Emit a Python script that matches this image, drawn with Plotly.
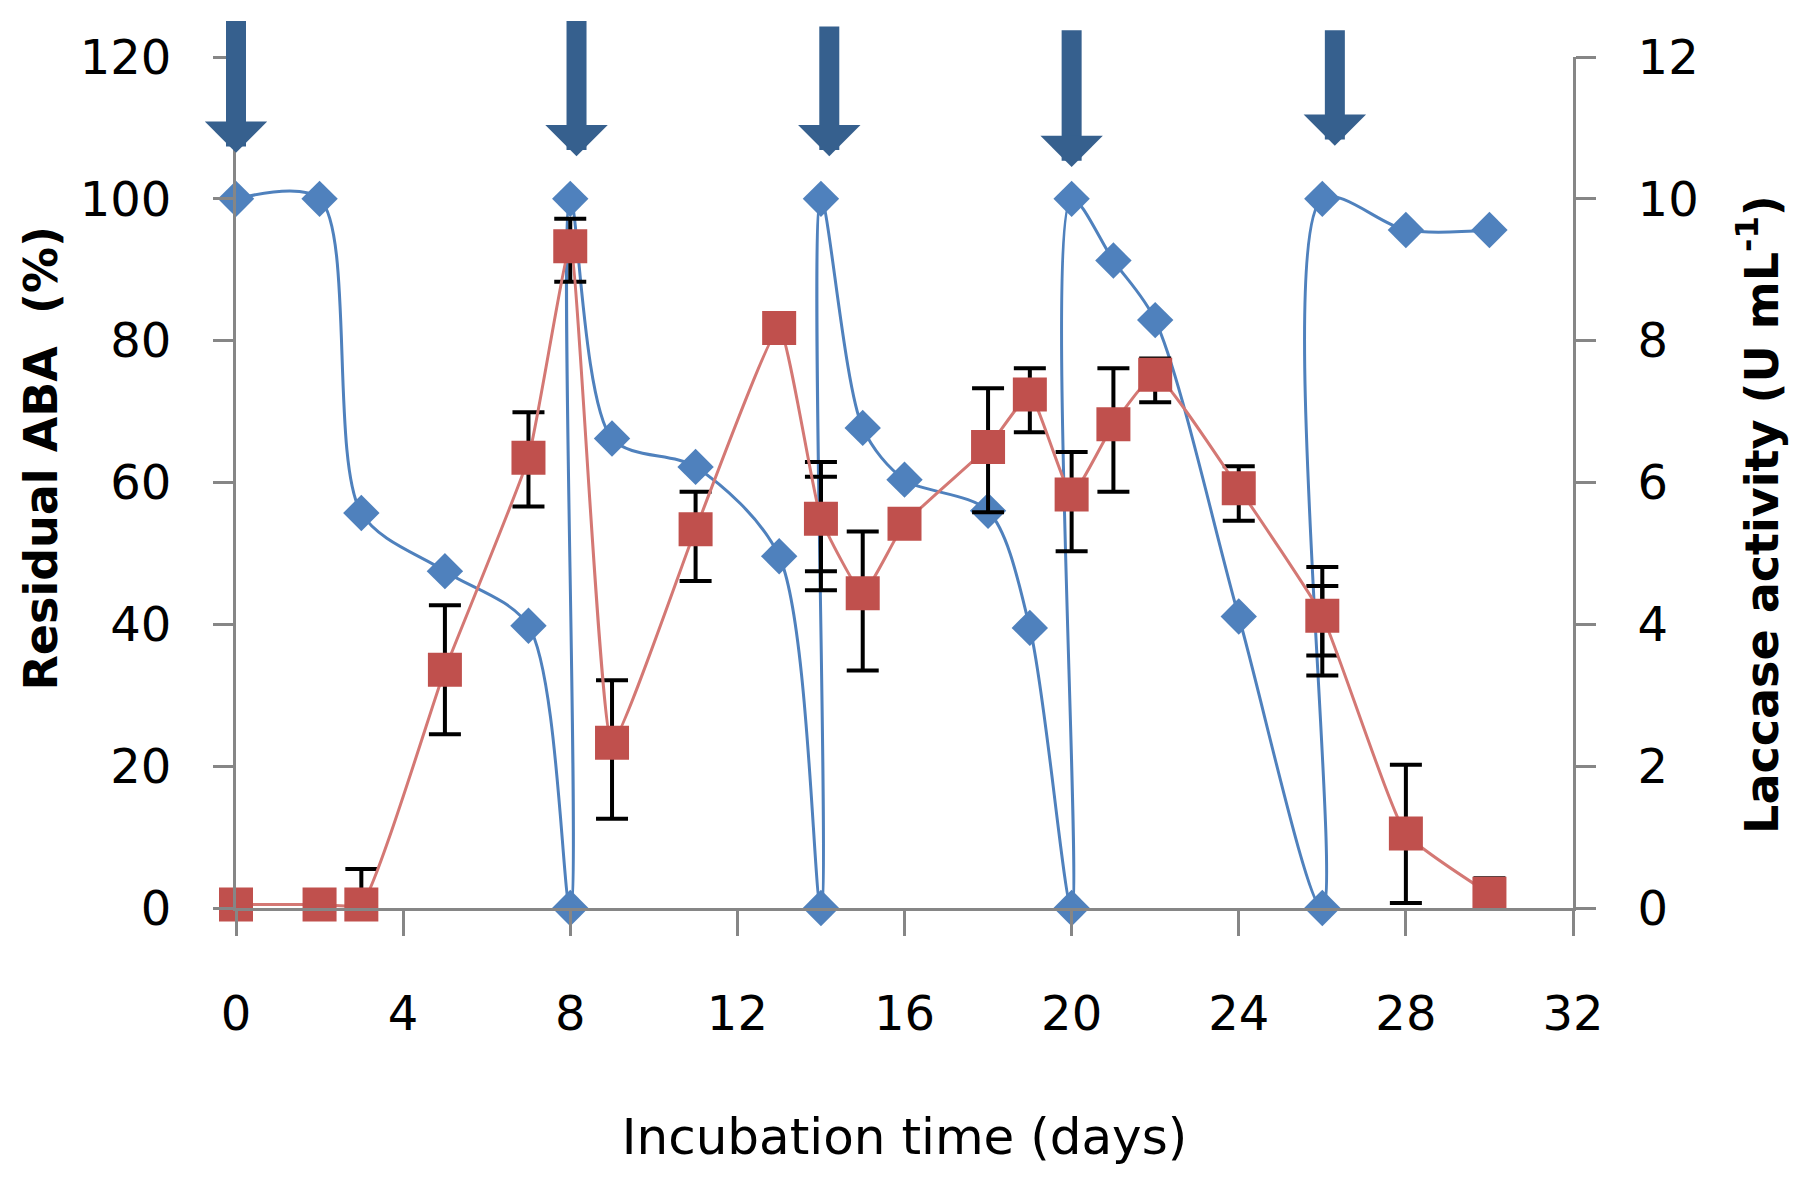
import plotly.graph_objects as go

# Остаточная АБК (%) — левая ось; дубли по x там, где добавляли новую порцию
aba_days = [0, 2, 3, 5, 7, 8, 8, 9, 11, 13, 14, 14, 15, 16, 18, 19, 20, 20, 21, 22, 24, 26, 26, 28, 30]
aba_residual = [100, 100, 55.7, 47.5, 39.8, 0, 100, 66.2, 62.2, 49.6, 0, 100, 67.7, 60.4, 56.0, 39.5,
                0, 100, 91.3, 82.9, 41.1, 0, 100, 95.6, 95.6]

# Активность лакказы (U mL-1) — правая ось
lac_days = [0, 2, 3, 5, 7, 8, 9, 11, 13, 14, 15, 16, 18, 19, 20, 21, 22, 24, 26, 28, 30]
lac_activity = [0.05, 0.05, 0.05, 3.36, 6.35, 9.33, 2.33, 5.34, 8.18, 5.49, 4.44, 5.42, 6.5, 7.24,
                5.83, 6.82, 7.52, 5.92, 4.12, 1.05, 0.2]
lac_err_plus = [0, 0, 0.5, 0.91, 0.64, 0.39, 0.88, 0.53, 0, 0.8, 0.87, 0.05, 0.83, 0.37, 0.6, 0.79,
                0.23, 0.31, 0.69, 0.97, 0.22]
lac_err_minus = [0, 0, 0, 0.91, 0.69, 0.5, 1.07, 0.73, 0, 1.01, 1.09, 0.18, 0.92, 0.53, 0.8, 0.95,
                 0.39, 0.46, 0.84, 0.98, 0]

# вторые (внутренние) усы на 14 и 26 сутки
inner_days = [14, 26]
inner_plus = [0.59, 0.42]
inner_minus = [0.74, 0.56]

# стрелки — моменты внесения АБК
arrow_days = [0, 8.15, 14.2, 20, 26.3]
arrow_top = [125.3, 125.3, 124.5, 124, 124]
arrow_tip = [106.5, 106, 106, 104.5, 107.5]

x_ticks = [0, 4, 8, 12, 16, 20, 24, 28, 32]
left_ticks = [0, 20, 40, 60, 80, 100, 120]
right_ticks = [0, 2, 4, 6, 8, 10, 12]

axis_grey = '#868686'
tick_font = dict(family='DejaVu Sans', size=48, color='#000000')
title_font = dict(family='DejaVu Sans', size=46, color='#000000')

fig = go.Figure()

fig.add_trace(go.Scatter(
    x=aba_days, y=aba_residual, mode='lines+markers',
    line=dict(color='#4F81BD', width=3, shape='spline', smoothing=0.85),
    marker=dict(symbol='diamond', size=28, color='#4F81BD'),
    cliponaxis=False, showlegend=False,
))

inner_y = [lac_activity[lac_days.index(d)] for d in inner_days]
fig.add_trace(go.Scatter(
    x=inner_days, y=inner_y, yaxis='y2', mode='markers',
    marker=dict(size=1, color='rgba(0,0,0,0)'),
    error_y=dict(type='data', array=inner_plus, arrayminus=inner_minus,
                 color='black', thickness=4, width=16),
    cliponaxis=False, showlegend=False, hoverinfo='skip',
))

fig.add_trace(go.Scatter(
    x=lac_days, y=lac_activity, yaxis='y2', mode='lines+markers',
    line=dict(color='#D47874', width=3, shape='spline', smoothing=0.4),
    marker=dict(symbol='square', size=34, color='#C0504D'),
    error_y=dict(type='data', array=lac_err_plus, arrayminus=lac_err_minus,
                 color='black', thickness=4, width=16),
    cliponaxis=False, showlegend=False,
))

for d, top, tip in zip(arrow_days, arrow_top, arrow_tip):
    fig.add_annotation(
        x=d, y=tip, ax=d, ay=top, xref='x', yref='y', axref='x', ayref='y',
        text='', showarrow=True, arrowhead=1, arrowwidth=20, arrowsize=0.52,
        arrowcolor='#36608E',
    )

# подписи осей Y — как в оригинале, не по центру области
fig.add_annotation(
    text='<b>Residual ABA  (%)</b>', textangle=-90, font=title_font,
    xref='paper', yref='paper', x=-0.146, y=0.529,
    xanchor='center', yanchor='middle', showarrow=False,
)
fig.add_annotation(
    text='<b>Laccase activity (U mL<sup>-1</sup>)</b>', textangle=-90, font=title_font,
    xref='paper', yref='paper', x=1.1384, y=0.462,
    xanchor='center', yanchor='middle', showarrow=False,
)

fig.update_layout(
    width=1808, height=1179,
    margin=dict(l=228, r=243, t=49, b=279),
    paper_bgcolor='white', plot_bgcolor='white',
    xaxis=dict(
        range=[0, 32], tickvals=x_ticks, showgrid=False, zeroline=False,
        showline=True, linecolor=axis_grey, linewidth=3,
        ticks='outside', ticklen=25, tickwidth=3, tickcolor=axis_grey,
        tickfont=tick_font, ticklabelstandoff=36,
        title=dict(text='Incubation time (days)', font=dict(family='DejaVu Sans', size=50, color='#000000'),
                   standoff=80),
    ),
    yaxis=dict(
        range=[0, 120], tickvals=left_ticks, showgrid=False, zeroline=False,
        showline=True, linecolor=axis_grey, linewidth=3,
        ticks='outside', ticklen=20, tickwidth=3, tickcolor=axis_grey,
        tickfont=tick_font, ticklabelstandoff=32,
    ),
    yaxis2=dict(
        range=[0, 12], tickvals=right_ticks, overlaying='y', side='right',
        showgrid=False, zeroline=False,
        showline=True, linecolor=axis_grey, linewidth=3,
        ticks='outside', ticklen=20, tickwidth=3, tickcolor=axis_grey,
        tickfont=tick_font, ticklabelstandoff=32,
    ),
)

fig.write_html("out.html")
